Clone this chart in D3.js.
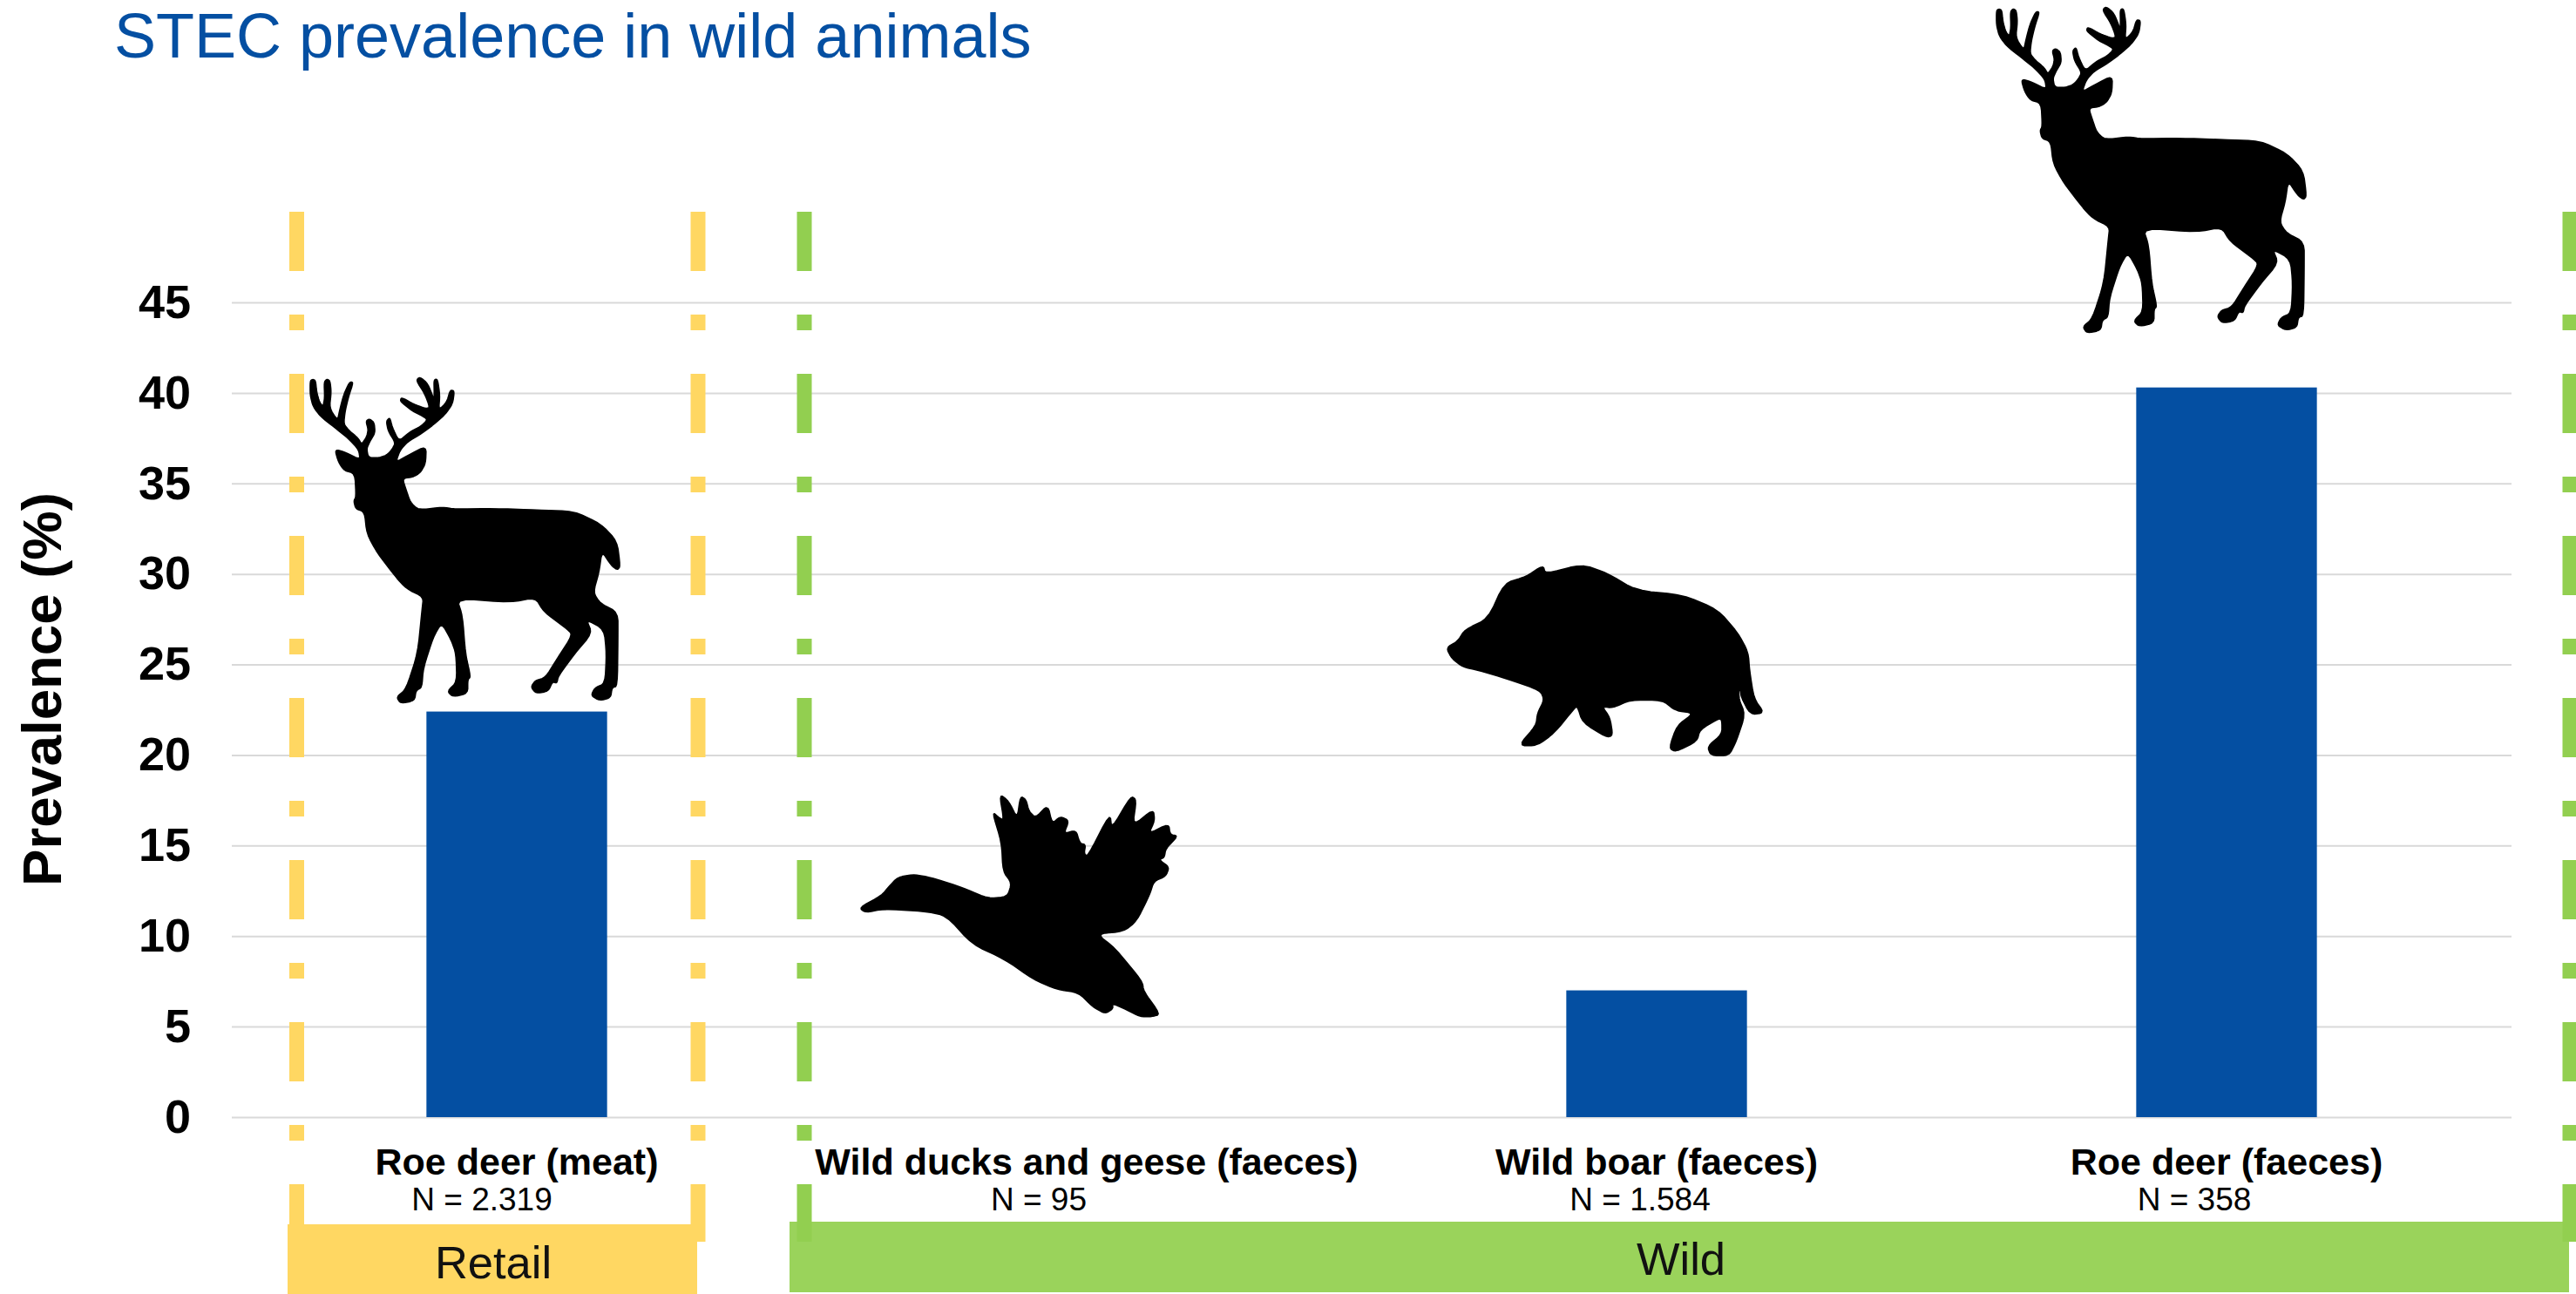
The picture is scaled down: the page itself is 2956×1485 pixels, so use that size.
<!DOCTYPE html>
<html>
<head>
<meta charset="utf-8">
<title>STEC prevalence in wild animals</title>
<script src="https://cdn.jsdelivr.net/npm/d3@7"></script>
<style>
  html, body { margin: 0; padding: 0; background: #fff; overflow: hidden; }
  svg { display: block; font-family: "Liberation Sans", Arial, sans-serif; }
</style>
</head>
<body>
<svg id="chart" width="2956" height="1485">
  <defs>
    <filter id="soft" x="-5%" y="-5%" width="110%" height="110%">
      <feGaussianBlur stdDeviation="0.8"/>
    </filter>
  </defs>
</svg>
<script>
// Prevalence of Shiga toxin-producing E. coli by sample type
const categories = ["Roe deer (meat)", "Wild ducks and geese (faeces)", "Wild boar (faeces)", "Roe deer (faeces)"];
const prevalence = [22.4, 0, 7.0, 40.3];
const sampleSizes = ["N = 2.319", "N = 95", "N = 1.584", "N = 358"];
const yTicks = [0, 5, 10, 15, 20, 25, 30, 35, 40, 45];
const groupNames = ["Retail", "Wild"];

// Silhouette outlines, each in its own drawing space (three units per pixel)
const deerOutline = [[322,430],[285,420],[265,390],[253,347],[290,358],[340,383],[335,348],[300,310],[250,270],[205,235],[178,200],[168,160],[168,112],[176,106],[186,110],[190,150],[200,185],[212,200],[218,170],[216,115],[226,105],[236,112],[240,150],[234,205],[262,248],[270,210],[283,160],[303,116],[316,116],[300,165],[288,215],[283,260],[302,283],[332,308],[345,330],[362,305],[368,280],[360,250],[372,242],[388,255],[391,290],[373,320],[362,345],[368,375],[400,377],[430,368],[448,350],[462,325],[437,285],[430,250],[442,238],[450,270],[473,320],[510,288],[550,267],[570,247],[565,238],[520,215],[478,182],[482,168],[525,192],[565,207],[580,203],[562,155],[533,110],[545,98],[572,120],[592,170],[594,190],[595,150],[594,108],[606,105],[614,160],[610,212],[638,185],[650,143],[664,146],[658,190],[632,227],[592,262],[552,292],[502,322],[477,350],[462,392],[510,365],[567,336],[565,395],[547,427],[522,442],[485,447],[499,490],[512,528],[540,556],[625,546],[665,553],[800,551],[950,556],[1075,560],[1167,603],[1224,663],[1235,750],[1225,762],[1205,747],[1172,697],[1162,770],[1142,840],[1167,878],[1227,908],[1227,1000],[1225,1162],[1207,1167],[1202,1202],[1165,1212],[1135,1195],[1148,1168],[1183,1153],[1188,1050],[1180,967],[1118,932],[1138,980],[1077,1052],[1022,1127],[1017,1152],[1002,1147],[987,1180],[945,1187],[928,1165],[943,1143],[978,1133],[1018,1068],[1072,985],[1048,962],[973,907],[943,857],[860,874],[672,860],[692,920],[702,1050],[720,1130],[710,1140],[710,1187],[660,1199],[640,1180],[673,1148],[670,1050],[653,1002],[620,944],[592,992],[557,1100],[552,1167],[532,1177],[527,1212],[480,1222],[465,1200],[498,1173],[538,1050],[553,900],[558,855],[500,827],[463,787],[398,702],[363,637],[355,562],[325,552],[318,525],[326,510]];
const duckOutline = [[78,485],[155,443],[180,413],[210,381],[260,371],[310,378],[380,398],[450,423],[520,453],[588,448],[603,400],[573,360],[568,260],[536,155],[560,176],[576,184],[561,94],[592,118],[622,178],[633,101],[652,113],[662,153],[685,176],[727,131],[742,196],[770,171],[800,185],[782,231],[824,218],[837,263],[857,268],[852,298],[864,310],[941,160],[947,214],[1013,101],[1032,113],[1019,204],[1090,146],[1095,185],[1074,231],[1143,196],[1148,233],[1175,238],[1133,282],[1128,312],[1110,320],[1145,345],[1133,377],[1092,394],[1077,442],[1032,532],[987,567],[895,575],[957,623],[1052,738],[1057,773],[1114,852],[1085,860],[1045,860],[1000,837],[948,814],[952,832],[925,850],[883,827],[833,777],[760,767],[678,732],[578,662],[468,612],[378,512],[300,497],[160,489],[100,502]];
const boarOutline = [[89,370],[128,348],[153,308],[233,270],[288,148],[363,126],[422,86],[430,116],[555,83],[642,113],[742,173],[902,188],[1022,238],[1092,318],[1128,385],[1133,450],[1148,545],[1183,594],[1135,600],[1098,527],[1103,425],[1093,540],[1118,600],[1087,692],[1062,742],[1000,741],[988,710],[1038,668],[1038,622],[1030,612],[962,652],[952,692],[880,728],[856,716],[883,638],[942,595],[878,587],[833,550],[722,550],[662,577],[625,572],[652,610],[662,672],[640,678],[558,627],[540,570],[527,582],[462,662],[402,707],[338,707],[398,638],[403,595],[426,550],[413,517],[298,477],[198,447],[148,437],[108,407]];

const BLUE = "#044FA2";
const YELLOW = "#FFD762";
const GREEN = "#9AD35B";
const plot = { left: 266, right: 2882, top: 347, bottom: 1282 };

const svg = d3.select("#chart");

const x = d3.scaleBand()
  .domain(categories)
  .range([plot.left, plot.right])
  .paddingInner(0.683)
  .paddingOuter(0.3415);

const y = d3.scaleLinear()
  .domain([0, 45])
  .range([plot.bottom, plot.top]);

// Title
svg.append("text")
  .attr("x", 131).attr("y", 65.5)
  .attr("fill", BLUE)
  .attr("font-size", 72)
  .text("STEC prevalence in wild animals");

// Value axis, with its ticks stretched across the plot as gridlines
const yAxis = svg.append("g")
  .attr("transform", `translate(${plot.left},0)`)
  .call(d3.axisLeft(y).tickValues(yTicks).tickSize(-(plot.right - plot.left)).tickPadding(47));
yAxis.select(".domain").remove();
yAxis.selectAll(".tick line").attr("stroke", "#D9D9D9").attr("stroke-width", 2);
yAxis.selectAll(".tick text")
  .attr("font-family", "Liberation Sans")
  .attr("font-size", 54)
  .attr("font-weight", "bold")
  .attr("fill", "#000");

svg.append("text")
  .attr("transform", "translate(70,791) rotate(-90)")
  .attr("text-anchor", "middle")
  .attr("font-size", 63.5)
  .attr("font-weight", "bold")
  .text("Prevalence (%)");

// Bars
svg.append("g").selectAll("rect")
  .data(categories)
  .join("rect")
  .attr("x", d => x(d))
  .attr("width", x.bandwidth())
  .attr("y", (d, i) => y(prevalence[i]))
  .attr("height", (d, i) => y(0) - y(prevalence[i]))
  .attr("fill", BLUE);

// Category names under the axis, with sample sizes set a little left of centre
const sizeShift = [-40, -55, -19, -37];
const labels = svg.append("g").selectAll("g")
  .data(categories)
  .join("g")
  .attr("transform", d => `translate(${x(d) + x.bandwidth() / 2},0)`);
labels.append("text")
  .attr("y", 1348)
  .attr("text-anchor", "middle")
  .attr("font-size", 43)
  .attr("font-weight", "bold")
  .text(d => d);
labels.append("text")
  .attr("x", (d, i) => sizeShift[i])
  .attr("y", 1389)
  .attr("text-anchor", "middle")
  .attr("font-size", 37)
  .text((d, i) => sampleSizes[i]);

// Group bands along the bottom
const bands = [
  { name: groupNames[0], x0: 330, x1: 800, top: 1405, bottom: 1485, fill: YELLOW, textX: 566, textY: 1467 },
  { name: groupNames[1], x0: 906, x1: 2948, top: 1402, bottom: 1483, fill: GREEN, textX: 1929, textY: 1463 }
];
svg.append("g").selectAll("rect")
  .data(bands)
  .join("rect")
  .attr("x", d => d.x0)
  .attr("y", d => d.top)
  .attr("width", d => d.x1 - d.x0)
  .attr("height", d => d.bottom - d.top)
  .attr("fill", d => d.fill);
svg.append("g").selectAll("text")
  .data(bands)
  .join("text")
  .attr("x", d => d.textX)
  .attr("y", d => d.textY)
  .attr("text-anchor", "middle")
  .attr("font-size", 52.5)
  .attr("fill", "#111")
  .text(d => d.name);

// Dash-dot frames around each group
const frames = [
  { xs: [340.5, 801], color: YELLOW },
  { xs: [923, 2949], color: "#92CF50" }
];
frames.forEach(f => {
  svg.append("g").selectAll("line")
    .data(f.xs)
    .join("line")
    .attr("x1", d => d).attr("x2", d => d)
    .attr("y1", 243).attr("y2", 1425)
    .attr("stroke", f.color)
    .attr("stroke-width", 17)
    .attr("stroke-dasharray", "68 50 18 50");
});

// Rounds an outline's corners by cutting each one twice
function rounded(points, cut = 0.2, passes = 2) {
  let pts = points;
  for (let p = 0; p < passes; p++) {
    pts = pts.flatMap((a, i) => {
      const b = pts[(i + 1) % pts.length];
      return [
        [a[0] + (b[0] - a[0]) * cut, a[1] + (b[1] - a[1]) * cut],
        [b[0] - (b[0] - a[0]) * cut, b[1] - (b[1] - a[1]) * cut]
      ];
    });
  }
  return pts;
}

// Animal silhouettes
const outline = d3.line().curve(d3.curveLinearClosed);
const silhouettes = [
  { shape: deerOutline, dx: 300, dy: 400 },
  { shape: duckOutline, dx: 960, dy: 880 },
  { shape: boarOutline, dx: 1630, dy: 620 },
  { shape: deerOutline, dx: 2235, dy: -25 }
];
svg.append("g").selectAll("path")
  .data(silhouettes)
  .join("path")
  .attr("transform", d => `translate(${d.dx},${d.dy}) scale(${1 / 3})`)
  .attr("d", d => outline(rounded(d.shape)))
  .attr("fill", "#000")
  .attr("stroke", "#000")
  .attr("stroke-width", 5)
  .attr("stroke-linejoin", "round")
  .attr("filter", "url(#soft)");
</script>
</body>
</html>
